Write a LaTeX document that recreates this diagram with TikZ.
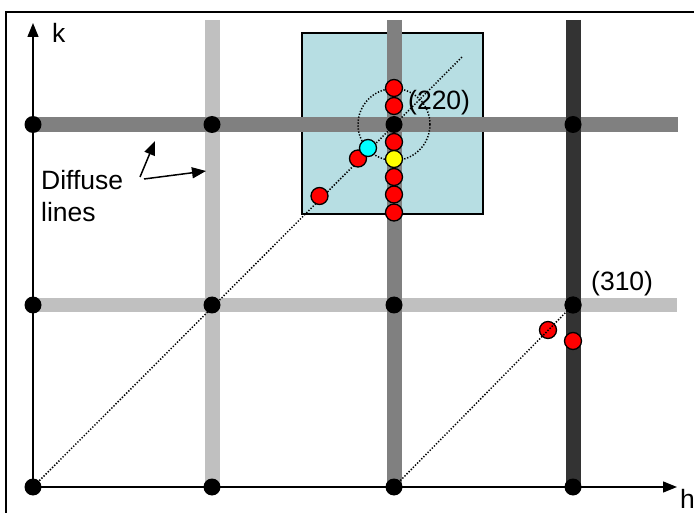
\documentclass[tikz,border=0pt]{standalone}
\usepackage{fontspec}
\setmainfont{Liberation Sans}
\usetikzlibrary{arrows.meta}
\definecolor{lgray}{RGB}{192,192,192}
\definecolor{mgray}{RGB}{128,128,128}
\definecolor{dgray}{RGB}{51,51,51}
\definecolor{lblue}{RGB}{183,222,227}
\definecolor{spotred}{RGB}{255,0,0}
\definecolor{spotyellow}{RGB}{255,255,0}
\definecolor{spotcyan}{RGB}{0,255,255}
\begin{document}
\begin{tikzpicture}[x=1pt,y=-1pt,
  dot/.style={circle,fill=black,minimum size=17pt,inner sep=0pt},
  spot/.style={circle,draw=black,line width=1.3pt,minimum size=17pt,inner sep=0pt},
  bar/.style={line width=15pt},
  axis/.style={line width=1.3pt,-{Triangle[length=14pt,width=11pt]}},
  lbl/.style={font=\fontsize{26.5}{32}\selectfont,inner sep=0pt,anchor=base west},
  dots/.style={line width=1.5pt,dash pattern=on 1.3pt off 1.7pt},
  pointer/.style={line width=1.5pt,-{Triangle[length=14pt,width=11pt]}}]
\useasboundingbox (0,0) rectangle (694,513);
\clip (0,0) rectangle (694,513);
% frame
\draw[line width=2pt] (6,530) -- (6,12) -- (710,12);
% highlighted square
\node[draw=black,line width=1.3pt,fill=lblue,minimum width=181pt,minimum height=181pt,inner sep=0pt] (sq) at (392.5,123.5) {};
% coordinates
\coordinate (v1t) at (212,20); \coordinate (v1b) at (212,487);
\coordinate (v2t) at (394,20); \coordinate (v2b) at (394,487);
\coordinate (v3t) at (573,20); \coordinate (v3b) at (573,487);
\coordinate (h1l) at (33,124.5); \coordinate (h1r) at (678,124.5);
\coordinate (h2l) at (33,305); \coordinate (h2r) at (677,305);
% diffuse bars
\draw[bar,lgray] (v1t) -- (v1b);
\draw[bar,lgray,line width=14pt] (h2l) -- (h2r);
\draw[bar,mgray] (h1l) -- (h1r);
\draw[bar,mgray] (v2t) -- (v2b);
\draw[bar,dgray] (v3t) -- (v3b);
% axes
\coordinate (ktip) at (33,23);
\coordinate (htip) at (677,487);
\draw[axis] (33,487) -- (ktip);
\draw[axis] (33,487) -- (htip);
\node[lbl] (k) at (52,43) {k};
\node[lbl] (h) at (680,508) {h};
% lattice points
\node[dot] (a00) at (33,487) {};
\node[dot] (a10) at (212,487) {};
\node[dot] (a20) at (394,487) {};
\node[dot] (a30) at (573,487) {};
\node[dot] (a01) at (33,305) {};
\node[dot] (a11) at (212,305) {};
\node[dot] (a21) at (394,305) {};
\node[dot] (a31) at (573,305) {};
\node[dot] (a02) at (33,124.5) {};
\node[dot] (a12) at (212,124.5) {};
\node[dot] (a32) at (573,124.5) {};
% dotted guides
\coordinate (dend) at (463,56);
\draw[dots] (a00.center) -- (dend);
\draw[dots] (394,124.5) circle[radius=36pt];
% spots near (220)
\node[spot,fill=spotred] (r1) at (394,88) {};
\node[spot,fill=spotred] (r2) at (394,106) {};
\node[dot] (a22) at (394,124.5) {};
\node[spot,fill=spotred] (r3) at (394,142) {};
\node[spot,fill=spotyellow] (y1) at (394,159) {};
\node[spot,fill=spotred] (r4) at (394,177) {};
\node[spot,fill=spotred] (r5) at (394,194.5) {};
\node[spot,fill=spotred] (r6) at (394,212.5) {};
\node[spot,fill=spotred] (r7) at (358,158.5) {};
\node[spot,fill=spotcyan] (c1) at (368,148) {};
\node[spot,fill=spotred] (r8) at (319.5,196) {};
% spots near (310)
\node[spot,fill=spotred] (s1) at (548,330) {};
\node[spot,fill=spotred] (s2) at (573,341) {};
\draw[dots] (a20.center) -- (a31.center);
\node[dot] at (a31) {};
% labels
\node[lbl] (l220) at (408,110) {(220)};
\node[lbl] (l310) at (591,290.5) {(310)};
\node[lbl] (dif) at (41,190) {Diffuse};
\node[lbl] (lin) at (41,222) {lines};
\coordinate (p1s) at (140,177); \coordinate (p1e) at (155,141);
\coordinate (p2s) at (144,179); \coordinate (p2e) at (206,171);
\draw[pointer] (p1s) -- (p1e);
\draw[pointer] (p2s) -- (p2e);
\end{tikzpicture}
\end{document}
